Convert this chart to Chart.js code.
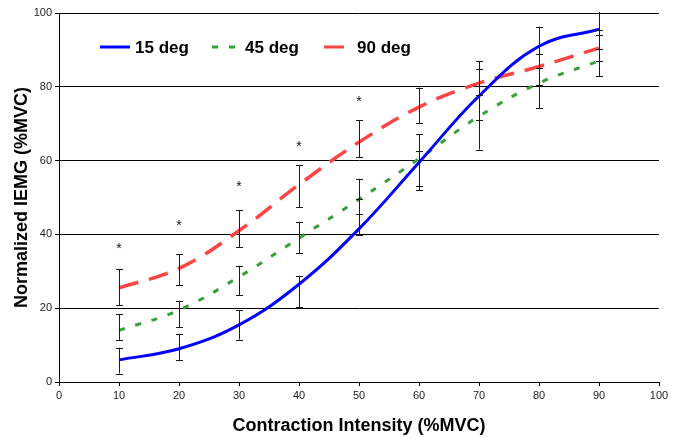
<!DOCTYPE html>
<html>
<head>
<meta charset="utf-8">
<script src="https://cdn.jsdelivr.net/npm/chart.js@4/dist/chart.umd.min.js"></script>
<style>
  html, body { margin: 0; padding: 0; background: #fff; }
  #wrap { width: 682px; height: 437px; }
</style>
</head>
<body>
<div id="wrap"><canvas id="chart"></canvas></div>
<script>
const intensity = [10, 20, 30, 40, 50, 60, 70, 80, 90];

const deg15 = [6, 9, 15.5, 26.5, 41.5, 59.5, 77.5, 91, 95.6];
const deg45 = [14, 19.5, 28.5, 39, 49.5, 60.5, 72, 81, 87];
const deg90 = [25.5, 30.8, 41, 53.5, 65, 74.5, 81, 85.5, 90.5];

// error bar ranges
const deg15Low  = [2.3, 6.0, 11.5, 20.3, 39.8, 52, 71, 85, 90.2];
const deg15High = [9.3, 13.1, 19.5, 28.8, 49.5, 62.7, 84.7, 96.3, 101];
const deg45Low  = [11.4, 14.9, 23.5, 34.9, 45.4, 53, 63, 74.2, 82.9];
const deg45High = [18.4, 22.0, 31.5, 43.4, 55.1, 67.1, 77.7, 85, 95.4];
const deg90Low  = [20.8, 26.2, 36.5, 47.3, 60.9, 70.1, 77.7, 80.5, 87];
const deg90High = [30.6, 34.6, 46.5, 58.7, 71, 79.8, 87, 89, 94];

// significance markers
const starX = [10, 20, 30, 40, 50];
const starY = [37, 43.3, 53.9, 64.9, 77.1];

const xTicks = [0, 10, 20, 30, 40, 50, 60, 70, 80, 90, 100];
const yTicks = [0, 20, 40, 60, 80, 100];

const pts = (ys) => intensity.map((x, i) => ({ x, y: ys[i] }));

const errorBars = {
  id: 'errorBars',
  afterDatasetsDraw(chart) {
    const { ctx, chartArea, scales: { x, y } } = chart;
    const sets = [[deg15Low, deg15High], [deg45Low, deg45High], [deg90Low, deg90High]];
    ctx.save();
    ctx.beginPath();
    ctx.rect(chartArea.left, chartArea.top - 1, chartArea.width, chartArea.height + 1);
    ctx.clip();
    ctx.strokeStyle = '#1a1a1a';
    ctx.lineWidth = 1;
    sets.forEach(([lo, hi]) => {
      intensity.forEach((v, i) => {
        const px = Math.round(x.getPixelForValue(v)) + 0.5;
        const y1 = y.getPixelForValue(lo[i]);
        const y2 = y.getPixelForValue(hi[i]);
        ctx.beginPath();
        ctx.moveTo(px, y1); ctx.lineTo(px, y2);
        ctx.moveTo(px - 3.5, Math.round(y1) + 0.5); ctx.lineTo(px + 3.5, Math.round(y1) + 0.5);
        ctx.moveTo(px - 3.5, Math.round(y2) + 0.5); ctx.lineTo(px + 3.5, Math.round(y2) + 0.5);
        ctx.stroke();
      });
    });
    ctx.restore();

    ctx.save();
    ctx.fillStyle = '#111';
    ctx.font = '14px "Liberation Sans", Arial, sans-serif';
    ctx.textAlign = 'center';
    ctx.textBaseline = 'alphabetic';
    starX.forEach((v, i) => {
      ctx.fillText('*', x.getPixelForValue(v), y.getPixelForValue(starY[i]) + 8);
    });
    ctx.restore();
  }
};

const lineLegend = {
  id: 'lineLegend',
  afterDraw(chart) {
    const { ctx } = chart;
    const yy = 47;
    const items = [
      { ds: chart.data.datasets[0], x1: 100, x2: 130, tx: 135 },
      { ds: chart.data.datasets[1], x1: 212, x2: 236, tx: 245 },
      { ds: chart.data.datasets[2], x1: 324, x2: 345, tx: 357 },
    ];
    ctx.save();
    items.forEach(it => {
      ctx.strokeStyle = it.ds.borderColor;
      ctx.lineWidth = 3;
      ctx.setLineDash(it.ds.borderDash || []);
      ctx.beginPath();
      ctx.moveTo(it.x1, yy); ctx.lineTo(it.x2, yy);
      ctx.stroke();
      ctx.setLineDash([]);
      ctx.fillStyle = '#000';
      ctx.font = 'bold 17px "Liberation Sans", Arial, sans-serif';
      ctx.textBaseline = 'middle';
      ctx.textAlign = 'left';
      ctx.fillText(it.ds.label, it.tx, yy + 1);
    });
    ctx.restore();
  }
};

new Chart(document.getElementById('chart').getContext('2d'), {
  type: 'line',
  data: {
    datasets: [
      {
        label: '15 deg',
        data: pts(deg15),
        borderColor: '#0000ff',
        borderWidth: 3,
        pointRadius: 0,
        tension: 0.4,
        fill: false,
      },
      {
        label: '45 deg',
        data: pts(deg45),
        borderColor: '#35a035',
        borderWidth: 3,
        borderDash: [6, 11],
        pointRadius: 0,
        tension: 0.4,
        fill: false,
      },
      {
        label: '90 deg',
        data: pts(deg90),
        borderColor: '#ff4444',
        borderWidth: 3.5,
        borderDash: [20, 11],
        pointRadius: 0,
        tension: 0.4,
        fill: false,
      },
    ],
  },
  options: {
    responsive: true,
    maintainAspectRatio: false,
    animation: false,
    layout: { padding: { top: 13, right: 23, left: 0, bottom: 0 } },
    plugins: {
      legend: { display: false },
      tooltip: { enabled: false },
    },
    scales: {
      x: {
        type: 'linear',
        min: 0,
        max: 100,
        afterBuildTicks: (s) => { s.ticks = xTicks.map(v => ({ value: v })); },
        afterFit: (s) => { s.height = 55; },
        grid: { drawOnChartArea: false, drawTicks: true, tickLength: 4, color: '#000' },
        border: { display: true, color: '#000', width: 1 },
        ticks: {
          color: '#222',
          padding: 3,
          font: { family: '"Liberation Sans", Arial', size: 11 },
        },
        title: {
          display: true,
          text: 'Contraction Intensity (%MVC)',
          color: '#000',
          padding: { top: 4, bottom: 0 },
          font: { family: '"Liberation Sans", Arial', size: 18, weight: 'bold' },
        },
      },
      y: {
        type: 'linear',
        min: 0,
        max: 100,
        afterBuildTicks: (s) => { s.ticks = yTicks.map(v => ({ value: v })); },
        afterFit: (s) => { s.width = 59; },
        grid: { color: '#000', lineWidth: 1, drawTicks: true, tickLength: 4 },
        border: { display: true, color: '#000', width: 1 },
        ticks: {
          color: '#222',
          padding: 3,
          font: { family: '"Liberation Sans", Arial', size: 11 },
        },
        title: {
          display: true,
          text: 'Normalized IEMG (%MVC)',
          color: '#000',
          padding: { top: 11, bottom: 4 },
          font: { family: '"Liberation Sans", Arial', size: 18, weight: 'bold' },
        },
      },
    },
  },
  plugins: [errorBars, lineLegend],
});
</script>
</body>
</html>
